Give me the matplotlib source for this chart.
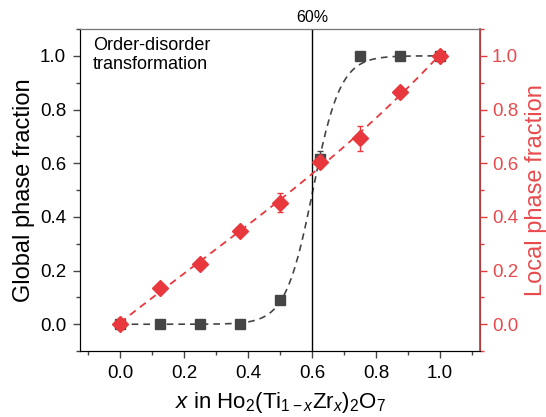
import numpy as np
import matplotlib.pyplot as plt

plt.rcParams['font.family'] = ['Liberation Sans', 'DejaVu Sans']
plt.rcParams['mathtext.fontset'] = 'custom'
plt.rcParams['mathtext.rm'] = 'Liberation Sans'
plt.rcParams['mathtext.it'] = 'Liberation Sans:italic'

# data
x = [0.0, 0.125, 0.25, 0.375, 0.5, 0.625, 0.75, 0.875, 1.0]
global_frac = [0.0, 0.0, 0.0, 0.0, 0.09, 0.615, 1.0, 1.0, 1.0]
global_err = [0.0, 0.0, 0.0, 0.0, 0.012, 0.03, 0.0, 0.0, 0.0]
local_frac = [0.0, 0.135, 0.226, 0.347, 0.453, 0.606, 0.693, 0.867, 1.0]
local_err = [0.0, 0.008, 0.018, 0.01, 0.035, 0.02, 0.047, 0.0, 0.0]
ticklabels = ['0.0', '0.2', '0.4', '0.6', '0.8', '1.0']

# Boltzmann fit parameters for global fraction
x0 = 0.603
dx = 0.043

dark = '#454545'
red = '#e8383d'
red_lbl = '#e84a4d'

fig = plt.figure(figsize=(5.46, 4.17), dpi=100)
ax = fig.add_axes([0.1465, 0.158, 0.7326, 0.7725])
ax2 = ax.twinx()

xs = np.linspace(0, 1, 300)
sig = 1 - 1 / (1 + np.exp((xs - x0) / dx))
ax.plot(xs, sig, color=dark, lw=1.2, ls=(0, (4, 3)), zorder=2)
ax.errorbar(x, global_frac, yerr=global_err, fmt='s', color=dark, ms=6.5,
            capsize=2.5, elinewidth=1, zorder=3)

coef = np.polyfit(x, local_frac, 3)
ax2.plot(xs, np.polyval(coef, xs), color=red, lw=1.3, ls=(0, (4, 3)), zorder=2)
ax2.errorbar(x, local_frac, yerr=local_err, fmt='D', color=red, ms=8,
             capsize=2.5, elinewidth=1, zorder=3)

ax.axvline(0.6, color='black', lw=1)
ax.text(0.6, 1.115, '60%', ha='center', va='bottom', fontsize=11.5)

ax.text(-0.085, 1.07, 'Order-disorder\ntransformation', ha='left', va='top',
        fontsize=13, linespacing=1.15)

for a in (ax, ax2):
    a.set_xlim(-0.125, 1.125)
    a.set_ylim(-0.1, 1.1)
    a.set_yticks(np.arange(0, 1.01, 0.2))
    a.set_yticks(np.arange(-0.1, 1.11, 0.2), minor=True)

ax.set_xticks(np.arange(0, 1.01, 0.2))
ax.set_xticks(np.arange(-0.1, 1.11, 0.2), minor=True)
ax.tick_params(which='major', direction='out', length=5, width=1, labelsize=13.5,
               pad=5, color=dark)
ax.tick_params(which='minor', direction='out', length=3, width=1, color=dark)
ax.tick_params(top=False, which='both')
ax2.tick_params(which='major', direction='out', length=5, width=1, labelsize=13.5,
                color=red, labelcolor=red_lbl, pad=3.5)
ax2.tick_params(which='minor', direction='out', length=3, width=1, color=red)
ax2.spines['right'].set_color('#c24448')
ax2.spines['right'].set_linewidth(1.3)
ax2.spines['top'].set_color('#777777')
ax.spines['left'].set_color('#333333')
ax.spines['bottom'].set_color('#222222')
ax.set_yticklabels(ticklabels)
ax2.set_yticklabels(ticklabels)
ax.set_xticklabels(ticklabels)

ax.set_ylabel('Global phase fraction', fontsize=17, labelpad=3.5)
ax2.set_ylabel('Local phase fraction', fontsize=17, color=red_lbl, labelpad=5)
ax.set_xlabel('$x$ in Ho$_2$(Ti$_{1-x}$Zr$_x$)$_2$O$_7$', fontsize=16, labelpad=5.5)

fig.savefig('out.png', dpi=100)
